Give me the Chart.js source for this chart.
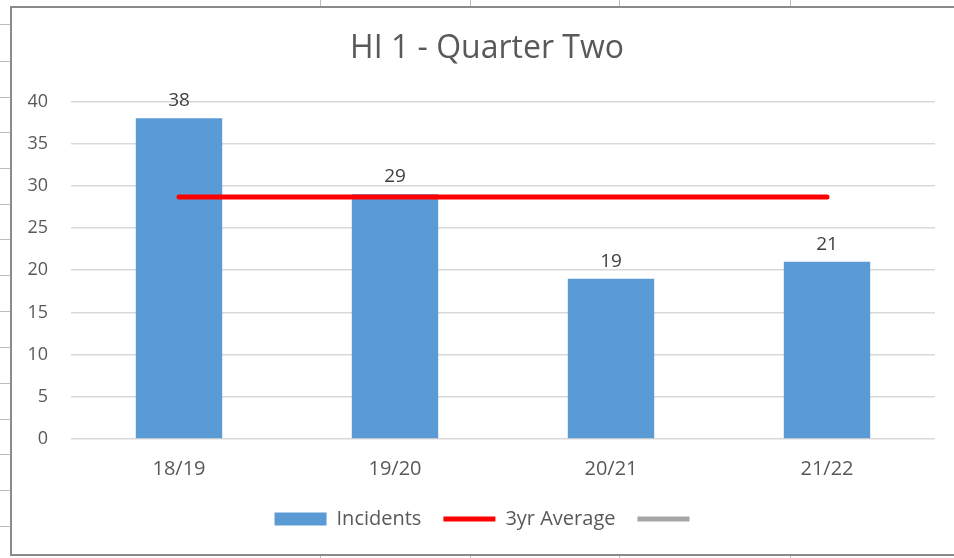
<!DOCTYPE html>
<html>
<head>
<meta charset="utf-8">
<script src="https://cdn.jsdelivr.net/npm/chart.js@4"></script>
<style>
  html, body { margin: 0; padding: 0; background: #fff; }
  body { width: 954px; height: 558px; position: relative; overflow: hidden; }
  .frame {
    position: absolute; left: 10px; top: 6px; width: 966px; height: 550px;
    box-sizing: border-box; border: 2px solid #8a8a8a; border-right: none; background: #fff;
  }
  .inner { position: relative; width: 964px; height: 546px; }
  .cell-h { position: absolute; left: 0; width: 10px; height: 1px; background: #bdbdbd; }
  .cell-v { position: absolute; width: 1px; background: #bdbdbd; }
</style>
</head>
<body>
<div id="cells"></div>
<div class="frame"><div class="inner"><canvas id="chart"></canvas></div></div>
<script>
  // --- Data
  var categories = ["18/19", "19/20", "20/21", "21/22"];
  var incidents = [38, 29, 19, 21];
  var threeYrAverage = [28.67, 28.67, 28.67, 28.67];
  var emptySeries = [null, null, null, null];
  var yTicks = [0, 5, 10, 15, 20, 25, 30, 35, 40];

  // --- Spreadsheet cell lines around the chart object
  var cells = document.getElementById("cells");
  [24, 61, 97, 132, 168, 204, 239, 275, 311, 347, 383, 419, 454, 490, 526].forEach(function (y) {
    var d = document.createElement("div");
    d.className = "cell-h";
    d.style.top = y + "px";
    cells.appendChild(d);
  });
  [320, 470, 619, 790].forEach(function (x) {
    var t = document.createElement("div");
    t.className = "cell-v";
    t.style.left = x + "px"; t.style.top = "0px"; t.style.height = "6px";
    cells.appendChild(t);
    var b = document.createElement("div");
    b.className = "cell-v";
    b.style.left = x + "px"; b.style.top = "556px"; b.style.height = "2px";
    cells.appendChild(b);
  });

  var textColor = "#595959";
  var fontFamily = "'Open Sans', sans-serif";

  // --- Value labels above bars
  var barLabels = {
    id: "barLabels",
    afterDatasetsDraw: function (chart) {
      var meta = chart.getDatasetMeta(0);
      var ctx = chart.ctx;
      ctx.save();
      ctx.font = "19px " + fontFamily;
      ctx.fillStyle = "#404040";
      ctx.textAlign = "center";
      ctx.textBaseline = "alphabetic";
      meta.data.forEach(function (bar, i) {
        ctx.fillText(String(incidents[i]), bar.x, bar.y - 12);
      });
      ctx.restore();
    }
  };

  new Chart(document.getElementById("chart"), {
    data: {
      labels: categories,
      datasets: [
        {
          type: "bar",
          label: "Incidents",
          data: incidents,
          backgroundColor: "#5b9bd5",
          borderWidth: 0,
          barPercentage: 0.4,
          categoryPercentage: 1.0,
          pointStyle: "rect",
          order: 2
        },
        {
          type: "line",
          label: "3yr Average",
          data: threeYrAverage,
          borderColor: "#ff0000",
          backgroundColor: "#ff0000",
          borderWidth: 5,
          borderCapStyle: "round",
          pointRadius: 0,
          pointHoverRadius: 0,
          pointStyle: "line",
          pointBorderColor: "#ff0000",
          pointBorderWidth: 5,
          order: 1
        },
        {
          type: "line",
          label: "",
          data: emptySeries,
          borderColor: "#a5a5a5",
          backgroundColor: "#a5a5a5",
          borderWidth: 5,
          borderCapStyle: "round",
          pointRadius: 0,
          pointHoverRadius: 0,
          pointStyle: "line",
          pointBorderColor: "#a5a5a5",
          pointBorderWidth: 5,
          order: 0
        }
      ]
    },
    options: {
      responsive: true,
      maintainAspectRatio: false,
      animation: false,
      layout: { padding: { left: 0, right: 14, top: 0, bottom: 15 } },
      plugins: {
        title: {
          display: true,
          text: "HI 1 - Quarter Two",
          color: textColor,
          font: { family: fontFamily, size: 32, weight: "normal" },
          padding: { top: 22, bottom: 33 }
        },
        legend: {
          position: "bottom",
          labels: {
            color: textColor,
            font: { family: fontFamily, size: 20 },
            usePointStyle: true,
            pointStyleWidth: 52,
            boxHeight: 13,
            padding: 22,
            sort: function (a, b) { return a.datasetIndex - b.datasetIndex; }
          }
        },
        tooltip: { enabled: false }
      },
      scales: {
        x: {
          grid: { display: false, drawTicks: false },
          border: { display: false },
          afterFit: function (scale) { scale.height -= 12; },
          ticks: { color: textColor, font: { family: fontFamily, size: 20 }, padding: 18 }
        },
        y: {
          min: 0,
          max: 40,
          afterBuildTicks: function (scale) {
            scale.ticks = yTicks.map(function (v) { return { value: v }; });
          },
          afterFit: function (scale) { scale.width = 59; },
          grid: { color: "#d9d9d9", lineWidth: 1.5, drawTicks: false },
          border: { display: false },
          ticks: { color: textColor, font: { family: fontFamily, size: 18 }, padding: 23 }
        },
        // empty right-hand margin inside the chart object (no ticks, no grid)
        yRight: {
          position: "right",
          grid: { display: false, drawTicks: false },
          border: { display: false },
          ticks: { display: false },
          afterFit: function (scale) { scale.width = 27; }
        }
      }
    },
    plugins: [barLabels]
  });
</script>
</body>
</html>
